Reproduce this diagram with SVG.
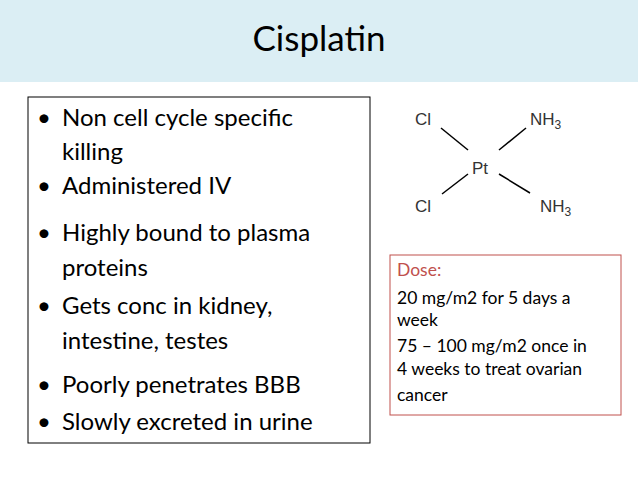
<svg xmlns="http://www.w3.org/2000/svg" width="638" height="479" viewBox="0 0 638 479">
<style>
.b{font-family:Lato,sans-serif;font-size:24px;fill:#000}
.d{font-family:Lato,sans-serif;font-size:17.5px;fill:#000}
.c{font-family:"Liberation Sans",Arial,sans-serif;font-size:17px;fill:#333}
.s{font-size:12px}
line{stroke:#000;stroke-width:1.5}
</style>
<rect width="638" height="479" fill="#fff"/>
<g id="header"><rect x="0" y="0" width="638" height="82" fill="#dbeef4"/>
<text x="319" y="51" text-anchor="middle" font-family="Lato,sans-serif" font-size="35" fill="#000">Cisplatin</text></g>
<g id="bullets"><rect x="28" y="97" width="342" height="346" fill="none" stroke="#000" stroke-width="1"/>
<text class="b" x="37" y="126">•</text><text class="b" x="62" y="126">Non cell cycle specific</text>
<text class="b" x="62" y="160">killing</text>
<text class="b" x="37" y="194">•</text><text class="b" x="62" y="194">Administered IV</text>
<text class="b" x="37" y="241">•</text><text class="b" x="62" y="241">Highly bound to plasma</text>
<text class="b" x="62" y="276">proteins</text>
<text class="b" x="37" y="314">•</text><text class="b" x="62" y="314">Gets conc in kidney,</text>
<text class="b" x="62" y="349">intestine, testes</text>
<text class="b" x="37" y="393">•</text><text class="b" x="62" y="393">Poorly penetrates BBB</text>
<text class="b" x="37" y="430">•</text><text class="b" x="62" y="430">Slowly excreted in urine</text></g>
<g id="structure">
<text class="c" x="415" y="125">Cl</text>
<text class="c" x="530" y="125">NH<tspan class="s" dy="4">3</tspan></text>
<text class="c" x="472" y="174">Pt</text>
<text class="c" x="415" y="212">Cl</text>
<text class="c" x="540" y="212">NH<tspan class="s" dy="4">3</tspan></text>
<line x1="441" y1="128" x2="468" y2="150"/>
<line x1="526" y1="128" x2="499" y2="150"/>
<line x1="468" y1="174" x2="442" y2="194"/>
<line x1="499" y1="174" x2="530" y2="193"/>
</g>
<g id="dose"><rect x="390" y="255" width="231" height="160" fill="none" stroke="#c0504d" stroke-width="1"/>
<text class="d" x="397" y="276"><tspan fill="#c0504d">Dose:</tspan></text>
<text class="d" x="397" y="304">20 mg/m2 for 5 days a</text>
<text class="d" x="397" y="326">week</text>
<text class="d" x="397" y="352">75 – 100 mg/m2 once in</text>
<text class="d" x="397" y="375">4 weeks to treat  ovarian</text>
<text class="d" x="397" y="401">cancer</text></g>
</svg>
